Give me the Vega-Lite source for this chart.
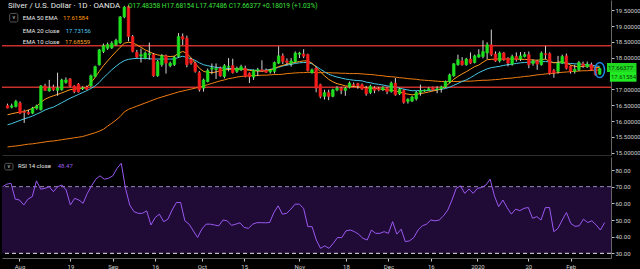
{
"$schema":"https://vega.github.io/schema/vega-lite/v6.json",
"background":"#000000",
"padding":0,
"spacing":1,
"config":{"view":{"stroke":null},"axis":{"labelFont":"Roboto","grid":false,"labelOverlap":false,"labelFlush":false,"labelBound":false},"text":{"font":"Roboto"}},
"datasets":{
"bars":[
{"i":0,"date":"2019-07-26","open":16.49,"high":16.55,"low":16.40,"close":16.41,"ema10":16.20,"ema20":15.88,"ema50":15.18,"rsi":70},
{"i":1,"date":"2019-07-29","open":16.44,"high":16.55,"low":16.40,"close":16.48,"ema10":16.23,"ema20":15.92,"ema50":15.20,"rsi":71.5},
{"i":2,"date":"2019-07-30","open":16.46,"high":16.67,"low":16.43,"close":16.62,"ema10":16.26,"ema20":15.97,"ema50":15.21,"rsi":72},
{"i":3,"date":"2019-07-31","open":16.57,"high":16.62,"low":16.22,"close":16.25,"ema10":16.28,"ema20":16.02,"ema50":15.23,"rsi":62.5},
{"i":4,"date":"2019-08-01","open":16.30,"high":16.36,"low":15.94,"close":16.27,"ema10":16.30,"ema20":16.07,"ema50":15.25,"rsi":62},
{"i":5,"date":"2019-08-02","open":16.27,"high":16.35,"low":16.20,"close":16.23,"ema10":16.35,"ema20":16.11,"ema50":15.27,"rsi":59},
{"i":6,"date":"2019-08-05","open":16.25,"high":16.45,"low":16.22,"close":16.41,"ema10":16.40,"ema20":16.16,"ema50":15.28,"rsi":62.5},
{"i":7,"date":"2019-08-06","open":16.40,"high":16.52,"low":16.36,"close":16.48,"ema10":16.47,"ema20":16.22,"ema50":15.30,"rsi":64},
{"i":8,"date":"2019-08-07","open":16.36,"high":17.14,"low":16.33,"close":17.11,"ema10":16.59,"ema20":16.28,"ema50":15.32,"rsi":73.5},
{"i":9,"date":"2019-08-08","open":17.11,"high":17.18,"low":16.95,"close":16.97,"ema10":16.69,"ema20":16.35,"ema50":15.34,"rsi":68.5},
{"i":10,"date":"2019-08-09","open":16.95,"high":17.30,"low":16.93,"close":17.04,"ema10":16.75,"ema20":16.40,"ema50":15.36,"rsi":69},
{"i":11,"date":"2019-08-12","open":17.07,"high":17.15,"low":16.95,"close":16.99,"ema10":16.80,"ema20":16.44,"ema50":15.37,"rsi":70},
{"i":12,"date":"2019-08-13","open":16.97,"high":17.53,"low":16.80,"close":17.05,"ema10":16.84,"ema20":16.51,"ema50":15.39,"rsi":67},
{"i":13,"date":"2019-08-14","open":16.99,"high":17.34,"low":16.96,"close":17.30,"ema10":16.89,"ema20":16.58,"ema50":15.41,"rsi":70},
{"i":14,"date":"2019-08-15","open":17.22,"high":17.38,"low":17.18,"close":17.30,"ema10":16.94,"ema20":16.65,"ema50":15.43,"rsi":71},
{"i":15,"date":"2019-08-16","open":17.33,"high":17.36,"low":17.07,"close":17.11,"ema10":16.99,"ema20":16.72,"ema50":15.45,"rsi":68},
{"i":16,"date":"2019-08-19","open":17.11,"high":17.13,"low":16.88,"close":16.93,"ema10":17.01,"ema20":16.78,"ema50":15.47,"rsi":59},
{"i":17,"date":"2019-08-20","open":17.17,"high":17.20,"low":16.90,"close":16.92,"ema10":17.02,"ema20":16.84,"ema50":15.49,"rsi":63},
{"i":18,"date":"2019-08-21","open":17.02,"high":17.10,"low":16.98,"close":17.05,"ema10":17.03,"ema20":16.90,"ema50":15.51,"rsi":62},
{"i":19,"date":"2019-08-22","open":17.07,"high":17.12,"low":16.98,"close":17.00,"ema10":17.07,"ema20":16.96,"ema50":15.55,"rsi":60},
{"i":20,"date":"2019-08-23","open":17.11,"high":17.47,"low":17.08,"close":17.43,"ema10":17.21,"ema20":17.03,"ema50":15.59,"rsi":66},
{"i":21,"date":"2019-08-26","open":17.41,"high":17.75,"low":17.38,"close":17.72,"ema10":17.38,"ema20":17.11,"ema50":15.63,"rsi":70.5},
{"i":22,"date":"2019-08-27","open":17.78,"high":18.28,"low":17.75,"close":18.25,"ema10":17.57,"ema20":17.22,"ema50":15.68,"rsi":74.5},
{"i":23,"date":"2019-08-28","open":18.20,"high":18.45,"low":18.15,"close":18.38,"ema10":17.75,"ema20":17.37,"ema50":15.74,"rsi":76.5},
{"i":24,"date":"2019-08-29","open":18.30,"high":18.48,"low":18.25,"close":18.42,"ema10":17.90,"ema20":17.49,"ema50":15.84,"rsi":74.5},
{"i":25,"date":"2019-08-30","open":18.31,"high":18.52,"low":18.28,"close":18.46,"ema10":18.05,"ema20":17.62,"ema50":15.93,"rsi":75},
{"i":26,"date":"2019-09-02","open":18.41,"high":18.60,"low":18.38,"close":18.55,"ema10":18.19,"ema20":17.73,"ema50":16.03,"rsi":76.5},
{"i":27,"date":"2019-09-03","open":18.47,"high":19.32,"low":18.44,"close":19.29,"ema10":18.33,"ema20":17.83,"ema50":16.14,"rsi":81},
{"i":28,"date":"2019-09-04","open":19.29,"high":19.64,"low":19.25,"close":19.60,"ema10":18.46,"ema20":17.91,"ema50":16.29,"rsi":84},
{"i":29,"date":"2019-09-05","open":19.62,"high":19.66,"low":18.52,"close":18.67,"ema10":18.49,"ema20":17.95,"ema50":16.37,"rsi":69},
{"i":30,"date":"2019-09-06","open":18.67,"high":18.72,"low":18.17,"close":18.20,"ema10":18.47,"ema20":17.97,"ema50":16.42,"rsi":59},
{"i":31,"date":"2019-09-09","open":18.17,"high":18.25,"low":17.98,"close":18.02,"ema10":18.41,"ema20":17.98,"ema50":16.47,"rsi":55},
{"i":32,"date":"2019-09-10","open":18.05,"high":18.29,"low":17.85,"close":18.10,"ema10":18.33,"ema20":17.98,"ema50":16.52,"rsi":54},
{"i":33,"date":"2019-09-11","open":17.99,"high":18.20,"low":17.95,"close":18.15,"ema10":18.25,"ema20":17.98,"ema50":16.57,"rsi":54},
{"i":34,"date":"2019-09-12","open":18.10,"high":18.48,"low":17.94,"close":18.13,"ema10":18.19,"ema20":17.97,"ema50":16.62,"rsi":55.5},
{"i":35,"date":"2019-09-13","open":18.10,"high":18.15,"low":17.40,"close":17.43,"ema10":18.13,"ema20":17.96,"ema50":16.67,"rsi":47},
{"i":36,"date":"2019-09-16","open":17.43,"high":17.93,"low":17.40,"close":17.88,"ema10":18.09,"ema20":17.96,"ema50":16.72,"rsi":51.5},
{"i":37,"date":"2019-09-17","open":17.78,"high":18.12,"low":17.72,"close":18.06,"ema10":18.07,"ema20":17.96,"ema50":16.76,"rsi":53.5},
{"i":38,"date":"2019-09-18","open":18.06,"high":18.10,"low":17.50,"close":17.83,"ema10":18.05,"ema20":17.96,"ema50":16.80,"rsi":49},
{"i":39,"date":"2019-09-19","open":17.75,"high":17.88,"low":17.70,"close":17.83,"ema10":18.04,"ema20":17.96,"ema50":16.84,"rsi":50.5},
{"i":40,"date":"2019-09-20","open":17.78,"high":18.06,"low":17.74,"close":18.02,"ema10":18.05,"ema20":17.96,"ema50":16.88,"rsi":56},
{"i":41,"date":"2019-09-23","open":18.04,"high":18.78,"low":18.00,"close":18.67,"ema10":18.14,"ema20":18.01,"ema50":16.92,"rsi":60.5},
{"i":42,"date":"2019-09-24","open":18.67,"high":18.77,"low":18.40,"close":18.59,"ema10":18.20,"ema20":18.05,"ema50":16.95,"rsi":60.5},
{"i":43,"date":"2019-09-25","open":18.62,"high":18.70,"low":17.70,"close":17.78,"ema10":18.14,"ema20":18.01,"ema50":16.98,"rsi":49.5},
{"i":44,"date":"2019-09-26","open":17.95,"high":18.00,"low":17.78,"close":17.83,"ema10":18.00,"ema20":17.97,"ema50":17.01,"rsi":47.5},
{"i":45,"date":"2019-09-27","open":17.83,"high":17.88,"low":17.53,"close":17.57,"ema10":17.83,"ema20":17.92,"ema50":17.04,"rsi":43.5},
{"i":46,"date":"2019-09-30","open":17.53,"high":17.58,"low":16.93,"close":16.99,"ema10":17.67,"ema20":17.84,"ema50":17.07,"rsi":39.5},
{"i":47,"date":"2019-10-01","open":17.04,"high":17.34,"low":16.93,"close":17.30,"ema10":17.57,"ema20":17.78,"ema50":17.11,"rsi":44.5},
{"i":48,"date":"2019-10-02","open":17.25,"high":17.66,"low":17.22,"close":17.60,"ema10":17.54,"ema20":17.75,"ema50":17.15,"rsi":47.5},
{"i":49,"date":"2019-10-03","open":17.64,"high":17.82,"low":17.48,"close":17.68,"ema10":17.53,"ema20":17.72,"ema50":17.19,"rsi":47.5},
{"i":50,"date":"2019-10-04","open":17.62,"high":17.82,"low":17.33,"close":17.66,"ema10":17.55,"ema20":17.70,"ema50":17.23,"rsi":47},
{"i":51,"date":"2019-10-07","open":17.67,"high":17.72,"low":17.40,"close":17.43,"ema10":17.59,"ema20":17.68,"ema50":17.27,"rsi":46.5},
{"i":52,"date":"2019-10-08","open":17.41,"high":17.80,"low":17.35,"close":17.75,"ema10":17.62,"ema20":17.67,"ema50":17.30,"rsi":50},
{"i":53,"date":"2019-10-09","open":17.70,"high":17.99,"low":17.57,"close":17.73,"ema10":17.63,"ema20":17.66,"ema50":17.34,"rsi":49.5},
{"i":54,"date":"2019-10-10","open":17.75,"high":17.97,"low":17.50,"close":17.53,"ema10":17.64,"ema20":17.66,"ema50":17.36,"rsi":46.8},
{"i":55,"date":"2019-10-11","open":17.57,"high":17.72,"low":17.52,"close":17.67,"ema10":17.64,"ema20":17.65,"ema50":17.39,"rsi":47.5},
{"i":56,"date":"2019-10-14","open":17.62,"high":17.78,"low":17.58,"close":17.72,"ema10":17.64,"ema20":17.65,"ema50":17.41,"rsi":48.3},
{"i":57,"date":"2019-10-15","open":17.67,"high":17.75,"low":17.38,"close":17.41,"ema10":17.63,"ema20":17.64,"ema50":17.42,"rsi":45.5},
{"i":58,"date":"2019-10-16","open":17.51,"high":17.54,"low":17.20,"close":17.40,"ema10":17.60,"ema20":17.63,"ema50":17.43,"rsi":45},
{"i":59,"date":"2019-10-17","open":17.39,"high":17.63,"low":17.30,"close":17.60,"ema10":17.59,"ema20":17.61,"ema50":17.44,"rsi":47.5},
{"i":60,"date":"2019-10-18","open":17.60,"high":17.68,"low":17.42,"close":17.62,"ema10":17.58,"ema20":17.60,"ema50":17.44,"rsi":48.4},
{"i":61,"date":"2019-10-21","open":17.62,"high":17.92,"low":17.55,"close":17.58,"ema10":17.57,"ema20":17.60,"ema50":17.45,"rsi":48.4},
{"i":62,"date":"2019-10-22","open":17.60,"high":17.66,"low":17.52,"close":17.54,"ema10":17.59,"ema20":17.61,"ema50":17.45,"rsi":48.3},
{"i":63,"date":"2019-10-23","open":17.55,"high":17.65,"low":17.50,"close":17.61,"ema10":17.62,"ema20":17.63,"ema50":17.46,"rsi":48.5},
{"i":64,"date":"2019-10-24","open":17.57,"high":17.88,"low":17.50,"close":17.85,"ema10":17.66,"ema20":17.66,"ema50":17.47,"rsi":54.5},
{"i":65,"date":"2019-10-25","open":17.83,"high":18.36,"low":17.80,"close":18.06,"ema10":17.72,"ema20":17.70,"ema50":17.47,"rsi":58.5},
{"i":66,"date":"2019-10-28","open":18.06,"high":18.14,"low":17.80,"close":17.88,"ema10":17.76,"ema20":17.74,"ema50":17.48,"rsi":53.5},
{"i":67,"date":"2019-10-29","open":17.90,"high":17.98,"low":17.76,"close":17.85,"ema10":17.80,"ema20":17.77,"ema50":17.50,"rsi":54},
{"i":68,"date":"2019-10-30","open":17.82,"high":17.99,"low":17.72,"close":17.90,"ema10":17.83,"ema20":17.79,"ema50":17.51,"rsi":56.5},
{"i":69,"date":"2019-10-31","open":17.88,"high":18.20,"low":17.85,"close":18.15,"ema10":17.86,"ema20":17.82,"ema50":17.52,"rsi":59.5},
{"i":70,"date":"2019-11-01","open":18.11,"high":18.19,"low":17.99,"close":18.15,"ema10":17.88,"ema20":17.84,"ema50":17.53,"rsi":59.5},
{"i":71,"date":"2019-11-04","open":18.12,"high":18.27,"low":17.99,"close":18.05,"ema10":17.90,"ema20":17.85,"ema50":17.53,"rsi":57},
{"i":72,"date":"2019-11-05","open":18.10,"high":18.13,"low":17.57,"close":17.60,"ema10":17.90,"ema20":17.85,"ema50":17.54,"rsi":46},
{"i":73,"date":"2019-11-06","open":17.53,"high":17.66,"low":17.50,"close":17.62,"ema10":17.83,"ema20":17.81,"ema50":17.54,"rsi":46},
{"i":74,"date":"2019-11-07","open":17.67,"high":17.70,"low":16.91,"close":17.04,"ema10":17.70,"ema20":17.73,"ema50":17.53,"rsi":38},
{"i":75,"date":"2019-11-08","open":17.15,"high":17.18,"low":16.72,"close":16.78,"ema10":17.56,"ema20":17.64,"ema50":17.53,"rsi":33},
{"i":76,"date":"2019-11-11","open":16.78,"high":16.99,"low":16.68,"close":16.90,"ema10":17.43,"ema20":17.56,"ema50":17.53,"rsi":34.5},
{"i":77,"date":"2019-11-12","open":16.90,"high":16.99,"low":16.66,"close":16.78,"ema10":17.32,"ema20":17.48,"ema50":17.53,"rsi":33},
{"i":78,"date":"2019-11-13","open":16.78,"high":17.02,"low":16.75,"close":16.99,"ema10":17.24,"ema20":17.43,"ema50":17.52,"rsi":36},
{"i":79,"date":"2019-11-14","open":16.98,"high":17.10,"low":16.94,"close":17.04,"ema10":17.18,"ema20":17.39,"ema50":17.52,"rsi":39.5},
{"i":80,"date":"2019-11-15","open":17.04,"high":17.08,"low":16.85,"close":16.97,"ema10":17.15,"ema20":17.36,"ema50":17.51,"rsi":39.4},
{"i":81,"date":"2019-11-18","open":16.97,"high":17.08,"low":16.80,"close":17.04,"ema10":17.11,"ema20":17.33,"ema50":17.51,"rsi":43.5},
{"i":82,"date":"2019-11-19","open":17.07,"high":17.25,"low":17.03,"close":17.20,"ema10":17.10,"ema20":17.31,"ema50":17.50,"rsi":44},
{"i":83,"date":"2019-11-20","open":17.15,"high":17.22,"low":17.08,"close":17.12,"ema10":17.09,"ema20":17.29,"ema50":17.50,"rsi":43},
{"i":84,"date":"2019-11-21","open":17.18,"high":17.21,"low":17.02,"close":17.12,"ema10":17.08,"ema20":17.28,"ema50":17.50,"rsi":41.4},
{"i":85,"date":"2019-11-22","open":17.15,"high":17.19,"low":16.98,"close":17.01,"ema10":17.07,"ema20":17.27,"ema50":17.49,"rsi":39},
{"i":86,"date":"2019-11-25","open":17.04,"high":17.11,"low":16.80,"close":16.86,"ema10":17.05,"ema20":17.23,"ema50":17.48,"rsi":38},
{"i":87,"date":"2019-11-26","open":16.90,"high":17.15,"low":16.85,"close":17.10,"ema10":17.04,"ema20":17.21,"ema50":17.47,"rsi":44},
{"i":88,"date":"2019-11-27","open":17.04,"high":17.10,"low":16.88,"close":16.97,"ema10":17.03,"ema20":17.18,"ema50":17.46,"rsi":42},
{"i":89,"date":"2019-11-28","open":17.02,"high":17.08,"low":16.94,"close":16.98,"ema10":17.02,"ema20":17.16,"ema50":17.44,"rsi":42},
{"i":90,"date":"2019-11-29","open":16.99,"high":17.10,"low":16.95,"close":17.06,"ema10":17.00,"ema20":17.14,"ema50":17.43,"rsi":43},
{"i":91,"date":"2019-12-02","open":17.04,"high":17.08,"low":16.85,"close":16.93,"ema10":16.99,"ema20":17.11,"ema50":17.41,"rsi":42},
{"i":92,"date":"2019-12-03","open":16.93,"high":17.25,"low":16.90,"close":17.20,"ema10":16.97,"ema20":17.09,"ema50":17.40,"rsi":49},
{"i":93,"date":"2019-12-04","open":17.20,"high":17.36,"low":16.80,"close":16.83,"ema10":16.95,"ema20":17.07,"ema50":17.39,"rsi":41.5},
{"i":94,"date":"2019-12-05","open":16.86,"high":17.05,"low":16.82,"close":17.01,"ema10":16.92,"ema20":17.04,"ema50":17.37,"rsi":44.5},
{"i":95,"date":"2019-12-06","open":16.97,"high":17.00,"low":16.55,"close":16.59,"ema10":16.88,"ema20":17.01,"ema50":17.36,"rsi":37},
{"i":96,"date":"2019-12-09","open":16.62,"high":16.72,"low":16.55,"close":16.69,"ema10":16.85,"ema20":16.98,"ema50":17.34,"rsi":37.5},
{"i":97,"date":"2019-12-10","open":16.63,"high":16.80,"low":16.60,"close":16.76,"ema10":16.83,"ema20":16.96,"ema50":17.33,"rsi":39.5},
{"i":98,"date":"2019-12-11","open":16.70,"high":16.95,"low":16.65,"close":16.90,"ema10":16.84,"ema20":16.96,"ema50":17.32,"rsi":44},
{"i":99,"date":"2019-12-12","open":16.90,"high":17.15,"low":16.80,"close":16.96,"ema10":16.87,"ema20":16.96,"ema50":17.30,"rsi":46.5},
{"i":100,"date":"2019-12-13","open":16.95,"high":17.00,"low":16.92,"close":16.98,"ema10":16.89,"ema20":16.96,"ema50":17.29,"rsi":47.5},
{"i":101,"date":"2019-12-16","open":16.98,"high":17.07,"low":16.97,"close":17.02,"ema10":16.92,"ema20":16.97,"ema50":17.28,"rsi":50},
{"i":102,"date":"2019-12-17","open":17.06,"high":17.09,"low":16.96,"close":16.99,"ema10":16.95,"ema20":16.98,"ema50":17.27,"rsi":49.5},
{"i":103,"date":"2019-12-18","open":17.00,"high":17.10,"low":16.88,"close":17.02,"ema10":16.98,"ema20":16.99,"ema50":17.26,"rsi":50},
{"i":104,"date":"2019-12-19","open":17.02,"high":17.12,"low":16.90,"close":17.08,"ema10":17.02,"ema20":17.00,"ema50":17.25,"rsi":52.5},
{"i":105,"date":"2019-12-20","open":17.08,"high":17.28,"low":17.05,"close":17.25,"ema10":17.10,"ema20":17.03,"ema50":17.25,"rsi":56},
{"i":106,"date":"2019-12-23","open":17.24,"high":17.50,"low":17.20,"close":17.46,"ema10":17.20,"ema20":17.07,"ema50":17.25,"rsi":62},
{"i":107,"date":"2019-12-24","open":17.43,"high":17.83,"low":17.40,"close":17.81,"ema10":17.32,"ema20":17.13,"ema50":17.25,"rsi":69},
{"i":108,"date":"2019-12-26","open":17.78,"high":18.10,"low":17.75,"close":17.94,"ema10":17.41,"ema20":17.19,"ema50":17.25,"rsi":70.5},
{"i":109,"date":"2019-12-27","open":17.90,"high":18.02,"low":17.75,"close":17.78,"ema10":17.49,"ema20":17.25,"ema50":17.26,"rsi":66},
{"i":110,"date":"2019-12-30","open":17.78,"high":18.00,"low":17.75,"close":17.96,"ema10":17.56,"ema20":17.30,"ema50":17.26,"rsi":68.5},
{"i":111,"date":"2019-12-31","open":17.96,"high":18.17,"low":17.80,"close":17.83,"ema10":17.64,"ema20":17.37,"ema50":17.26,"rsi":66},
{"i":112,"date":"2020-01-02","open":17.85,"high":18.10,"low":17.82,"close":18.06,"ema10":17.72,"ema20":17.45,"ema50":17.27,"rsi":69},
{"i":113,"date":"2020-01-03","open":18.02,"high":18.27,"low":18.00,"close":18.10,"ema10":17.77,"ema20":17.53,"ema50":17.28,"rsi":69.5},
{"i":114,"date":"2020-01-06","open":18.04,"high":18.55,"low":17.98,"close":18.20,"ema10":17.86,"ema20":17.59,"ema50":17.29,"rsi":71},
{"i":115,"date":"2020-01-07","open":18.15,"high":18.49,"low":17.96,"close":18.41,"ema10":17.94,"ema20":17.65,"ema50":17.29,"rsi":74.5},
{"i":116,"date":"2020-01-08","open":18.41,"high":18.89,"low":18.05,"close":18.10,"ema10":17.95,"ema20":17.69,"ema50":17.30,"rsi":64.5},
{"i":117,"date":"2020-01-09","open":18.12,"high":18.20,"low":17.87,"close":17.90,"ema10":17.96,"ema20":17.71,"ema50":17.31,"rsi":58},
{"i":118,"date":"2020-01-10","open":17.90,"high":18.20,"low":17.85,"close":18.15,"ema10":17.96,"ema20":17.73,"ema50":17.32,"rsi":62},
{"i":119,"date":"2020-01-13","open":18.15,"high":18.18,"low":17.90,"close":17.94,"ema10":17.96,"ema20":17.76,"ema50":17.34,"rsi":57.4},
{"i":120,"date":"2020-01-14","open":17.98,"high":18.02,"low":17.73,"close":17.83,"ema10":17.96,"ema20":17.78,"ema50":17.35,"rsi":53.5},
{"i":121,"date":"2020-01-15","open":17.80,"high":18.10,"low":17.75,"close":18.04,"ema10":17.96,"ema20":17.80,"ema50":17.36,"rsi":56.5},
{"i":122,"date":"2020-01-16","open":18.04,"high":18.17,"low":17.88,"close":17.95,"ema10":17.96,"ema20":17.82,"ema50":17.38,"rsi":55.6},
{"i":123,"date":"2020-01-17","open":17.96,"high":18.18,"low":17.90,"close":18.06,"ema10":17.95,"ema20":17.84,"ema50":17.39,"rsi":57},
{"i":124,"date":"2020-01-20","open":18.04,"high":18.18,"low":18.01,"close":18.10,"ema10":17.95,"ema20":17.85,"ema50":17.41,"rsi":57.5},
{"i":125,"date":"2020-01-21","open":18.10,"high":18.20,"low":17.67,"close":17.78,"ema10":17.94,"ema20":17.86,"ema50":17.42,"rsi":51},
{"i":126,"date":"2020-01-22","open":17.82,"high":17.95,"low":17.75,"close":17.90,"ema10":17.93,"ema20":17.87,"ema50":17.44,"rsi":52},
{"i":127,"date":"2020-01-23","open":17.90,"high":17.94,"low":17.62,"close":17.80,"ema10":17.92,"ema20":17.87,"ema50":17.46,"rsi":50},
{"i":128,"date":"2020-01-24","open":17.78,"high":18.20,"low":17.75,"close":18.15,"ema10":17.94,"ema20":17.88,"ema50":17.47,"rsi":57.4},
{"i":129,"date":"2020-01-27","open":18.13,"high":18.37,"low":17.95,"close":18.10,"ema10":17.96,"ema20":17.88,"ema50":17.49,"rsi":57.5},
{"i":130,"date":"2020-01-28","open":18.13,"high":18.17,"low":17.46,"close":17.51,"ema10":17.88,"ema20":17.87,"ema50":17.50,"rsi":43},
{"i":131,"date":"2020-01-29","open":17.60,"high":17.65,"low":17.37,"close":17.52,"ema10":17.84,"ema20":17.85,"ema50":17.51,"rsi":45},
{"i":132,"date":"2020-01-30","open":17.57,"high":18.06,"low":17.50,"close":17.83,"ema10":17.86,"ema20":17.84,"ema50":17.53,"rsi":50},
{"i":133,"date":"2020-01-31","open":17.83,"high":18.10,"low":17.80,"close":18.04,"ema10":17.88,"ema20":17.84,"ema50":17.54,"rsi":54.5},
{"i":134,"date":"2020-02-03","open":18.06,"high":18.13,"low":17.63,"close":17.67,"ema10":17.83,"ema20":17.83,"ema50":17.55,"rsi":48},
{"i":135,"date":"2020-02-04","open":17.73,"high":17.76,"low":17.50,"close":17.57,"ema10":17.77,"ema20":17.82,"ema50":17.56,"rsi":46.2},
{"i":136,"date":"2020-02-05","open":17.57,"high":17.78,"low":17.50,"close":17.64,"ema10":17.73,"ema20":17.81,"ema50":17.57,"rsi":46.5},
{"i":137,"date":"2020-02-06","open":17.62,"high":17.90,"low":17.58,"close":17.85,"ema10":17.72,"ema20":17.80,"ema50":17.58,"rsi":50.5},
{"i":138,"date":"2020-02-07","open":17.81,"high":17.88,"low":17.68,"close":17.75,"ema10":17.73,"ema20":17.79,"ema50":17.59,"rsi":48.5},
{"i":139,"date":"2020-02-10","open":17.71,"high":17.88,"low":17.68,"close":17.80,"ema10":17.74,"ema20":17.78,"ema50":17.59,"rsi":49.5},
{"i":140,"date":"2020-02-11","open":17.78,"high":17.85,"low":17.60,"close":17.62,"ema10":17.73,"ema20":17.77,"ema50":17.60,"rsi":47},
{"i":141,"date":"2020-02-12","open":17.67,"high":17.70,"low":17.44,"close":17.46,"ema10":17.69,"ema20":17.74,"ema50":17.61,"rsi":44},
{"i":142,"date":"2020-02-13","open":17.48,"high":17.68,"low":17.47,"close":17.66,"ema10":17.69,"ema20":17.73,"ema50":17.62,"rsi":48.47}
],
"levels":[{"level":18.38},{"level":17.07}]
},
"vconcat":[
{
"width":609,"height":155,
"data":{"name":"bars"},
"resolve":{"axis":{"x":"independent","y":"independent"}},
"layer":[
{"data":{"name":"levels"},"mark":{"type":"rule","color":"#c9302c","strokeWidth":1.5},
 "encoding":{"y":{"field":"level","type":"quantitative","axis":null,"scale":{"domain":[14.927,19.826],"nice":false,"zero":false}}}},
{"mark":{"type":"line","color":"#f07c10","strokeWidth":1},
 "encoding":{"x":{"field":"i","type":"quantitative","axis":null,"scale":{"domain":[-0.127,143.5],"nice":false,"zero":false}},
 "y":{"field":"ema50","type":"quantitative","axis":null,"scale":{"domain":[14.927,19.826],"nice":false,"zero":false}}}},
{"mark":{"type":"line","color":"#45c8e6","strokeWidth":1},
 "encoding":{"x":{"field":"i","type":"quantitative","axis":null,"scale":{"domain":[-0.127,143.5],"nice":false,"zero":false}},
 "y":{"field":"ema20","type":"quantitative","axis":null,"scale":{"domain":[14.927,19.826],"nice":false,"zero":false}}}},
{"mark":{"type":"line","color":"#ff9a1a","strokeWidth":1},
 "encoding":{"x":{"field":"i","type":"quantitative","axis":null,"scale":{"domain":[-0.127,143.5],"nice":false,"zero":false}},
 "y":{"field":"ema10","type":"quantitative","axis":null,"scale":{"domain":[14.927,19.826],"nice":false,"zero":false}}}},
{"mark":{"type":"rule","color":"#d4d4d4","strokeWidth":1},
 "encoding":{"x":{"field":"i","type":"quantitative","scale":{"domain":[-0.127,143.5],"nice":false,"zero":false},
   "axis":{"orient":"bottom","title":null,"labels":false,"ticks":false,"domain":true,"domainColor":"#2e2e2e"}},
 "y":{"field":"low","type":"quantitative","scale":{"domain":[14.927,19.826],"nice":false,"zero":false},
   "axis":{"orient":"right","title":null,"values":[15,15.5,16,16.5,17,18,18.5,19,19.5],"format":".5f","tickSize":3,"labelPadding":1,"labelFontSize":6,"labelColor":"#d0d0d0","tickColor":"#c0c0c0","domainColor":"#666666","labelOverlap":false,"labelFlush":false}},
 "y2":{"field":"high"}}},
{"mark":{"type":"bar","size":2.6,"strokeWidth":0.6},
 "encoding":{"x":{"field":"i","type":"quantitative","axis":null,"scale":{"domain":[-0.127,143.5],"nice":false,"zero":false}},
 "y":{"field":"open","type":"quantitative","axis":null,"scale":{"domain":[14.927,19.826],"nice":false,"zero":false}},
 "y2":{"field":"close"},
 "color":{"condition":{"test":"datum.close >= datum.open","value":"#1fe01f"},"value":"#f41c1c"},
 "stroke":{"condition":{"test":"datum.close >= datum.open","value":"#1fe01f"},"value":"#f41c1c"}}},
{"data":{"values":[{}]},"mark":{"type":"point","shape":"M-0.64,0A0.64,1,0,1,0,0.64,0A0.64,1,0,1,0,-0.64,0","size":225,"filled":false,"stroke":"#1e88e5","strokeWidth":1.5,"opacity":1},
 "encoding":{"x":{"datum":142,"type":"quantitative","axis":null,"scale":{"domain":[-0.127,143.5],"nice":false,"zero":false}},
 "y":{"datum":17.614,"type":"quantitative","axis":null,"scale":{"domain":[14.927,19.826],"nice":false,"zero":false}}}},
{"data":{"values":[{}]},"mark":{"type":"rect","fill":"#1fd81f"},
 "encoding":{"x":{"datum":143.74,"type":"quantitative","axis":null,"scale":{"domain":[-0.127,143.5],"nice":false,"zero":false}},"x2":{"datum":150.81},
 "y":{"datum":17.835,"type":"quantitative","axis":null,"scale":{"domain":[14.927,19.826],"nice":false,"zero":false}},"y2":{"datum":17.55}}},
{"data":{"values":[{}]},"mark":{"type":"rect","fill":"#22ea22"},
 "encoding":{"x":{"datum":144.44,"type":"quantitative","axis":null,"scale":{"domain":[-0.127,143.5],"nice":false,"zero":false}},"x2":{"datum":150.81},
 "y":{"datum":17.55,"type":"quantitative","axis":null,"scale":{"domain":[14.927,19.826],"nice":false,"zero":false}},"y2":{"datum":17.244}}},
{"data":{"values":[{}]},"mark":{"type":"text","text":"17.66377","align":"left","baseline":"middle","fontSize":6,"color":"#0a3a0a","dx":1},
 "encoding":{"x":{"datum":143.74,"type":"quantitative","axis":null,"scale":{"domain":[-0.127,143.5],"nice":false,"zero":false}},
 "y":{"datum":17.69,"type":"quantitative","axis":null,"scale":{"domain":[14.927,19.826],"nice":false,"zero":false}}}},
{"data":{"values":[{}]},"mark":{"type":"text","text":"17.61584","align":"left","baseline":"middle","fontSize":6,"color":"#0a3a0a","dx":1},
 "encoding":{"x":{"datum":144.44,"type":"quantitative","axis":null,"scale":{"domain":[-0.127,143.5],"nice":false,"zero":false}},
 "y":{"datum":17.40,"type":"quantitative","axis":null,"scale":{"domain":[14.927,19.826],"nice":false,"zero":false}}}},
{"data":{"values":[{}]},"mark":{"type":"text","text":"Silver / U.S. Dollar · 1D · OANDA","align":"left","baseline":"middle","fontSize":8,"color":"#e8e8e8"},
 "encoding":{"x":{"datum":0.109,"type":"quantitative","axis":null,"scale":{"domain":[-0.127,143.5],"nice":false,"zero":false}},
 "y":{"datum":19.643,"type":"quantitative","axis":null,"scale":{"domain":[14.927,19.826],"nice":false,"zero":false}}}},
{"data":{"values":[{}]},"mark":{"type":"text","text":"O17.48358 H17.68154 L17.47486 C17.66377 +0.18019 (+1.03%)","align":"left","baseline":"middle","fontSize":6.6,"color":"#3ee03e"},
 "encoding":{"x":{"datum":28.88,"type":"quantitative","axis":null,"scale":{"domain":[-0.127,143.5],"nice":false,"zero":false}},
 "y":{"datum":19.643,"type":"quantitative","axis":null,"scale":{"domain":[14.927,19.826],"nice":false,"zero":false}}}},
{"data":{"values":[{}]},"mark":{"type":"rect","fill":"#000000","stroke":"#555555","strokeWidth":1,"cornerRadius":1.5},
 "encoding":{"x":{"datum":0.51,"type":"quantitative","axis":null,"scale":{"domain":[-0.127,143.5],"nice":false,"zero":false}},"x2":{"datum":2.47},
 "y":{"datum":19.402,"type":"quantitative","axis":null,"scale":{"domain":[14.927,19.826],"nice":false,"zero":false}},"y2":{"datum":19.131}}},
{"data":{"values":[{}]},"mark":{"type":"text","text":"v","align":"center","baseline":"middle","fontSize":5.5,"color":"#dddddd"},
 "encoding":{"x":{"datum":1.49,"type":"quantitative","axis":null,"scale":{"domain":[-0.127,143.5],"nice":false,"zero":false}},
 "y":{"datum":19.28,"type":"quantitative","axis":null,"scale":{"domain":[14.927,19.826],"nice":false,"zero":false}}}},
{"data":{"values":[{}]},"mark":{"type":"text","text":"EMA 50 EMA","align":"left","baseline":"middle","fontSize":6,"color":"#e8e8e8"},
 "encoding":{"x":{"datum":3.646,"type":"quantitative","axis":null,"scale":{"domain":[-0.127,143.5],"nice":false,"zero":false}},
 "y":{"datum":19.267,"type":"quantitative","axis":null,"scale":{"domain":[14.927,19.826],"nice":false,"zero":false}}}},
{"data":{"values":[{}]},"mark":{"type":"text","text":"17.61584","align":"left","baseline":"middle","fontSize":6,"color":"#ff9800"},
 "encoding":{"x":{"datum":13.32,"type":"quantitative","axis":null,"scale":{"domain":[-0.127,143.5],"nice":false,"zero":false}},
 "y":{"datum":19.267,"type":"quantitative","axis":null,"scale":{"domain":[14.927,19.826],"nice":false,"zero":false}}}},
{"data":{"values":[{}]},"mark":{"type":"text","text":"EMA 20 close","align":"left","baseline":"middle","fontSize":6,"color":"#e8e8e8"},
 "encoding":{"x":{"datum":3.646,"type":"quantitative","axis":null,"scale":{"domain":[-0.127,143.5],"nice":false,"zero":false}},
 "y":{"datum":18.856,"type":"quantitative","axis":null,"scale":{"domain":[14.927,19.826],"nice":false,"zero":false}}}},
{"data":{"values":[{}]},"mark":{"type":"text","text":"17.73156","align":"left","baseline":"middle","fontSize":6,"color":"#4fc8ec"},
 "encoding":{"x":{"datum":13.95,"type":"quantitative","axis":null,"scale":{"domain":[-0.127,143.5],"nice":false,"zero":false}},
 "y":{"datum":18.856,"type":"quantitative","axis":null,"scale":{"domain":[14.927,19.826],"nice":false,"zero":false}}}},
{"data":{"values":[{}]},"mark":{"type":"text","text":"EMA 10 close","align":"left","baseline":"middle","fontSize":6,"color":"#e8e8e8"},
 "encoding":{"x":{"datum":3.646,"type":"quantitative","axis":null,"scale":{"domain":[-0.127,143.5],"nice":false,"zero":false}},
 "y":{"datum":18.489,"type":"quantitative","axis":null,"scale":{"domain":[14.927,19.826],"nice":false,"zero":false}}}},
{"data":{"values":[{}]},"mark":{"type":"text","text":"17.68559","align":"left","baseline":"middle","fontSize":6,"color":"#ffa726"},
 "encoding":{"x":{"datum":13.79,"type":"quantitative","axis":null,"scale":{"domain":[-0.127,143.5],"nice":false,"zero":false}},
 "y":{"datum":18.489,"type":"quantitative","axis":null,"scale":{"domain":[14.927,19.826],"nice":false,"zero":false}}}}
]
},
{
"width":609,"height":101,
"data":{"name":"bars"},
"resolve":{"axis":{"x":"independent","y":"independent"}},
"layer":[
{"data":{"values":[{"lo":30,"hi":70}]},"mark":{"type":"rect","fill":"#1f0b36"},
 "encoding":{"y":{"field":"lo","type":"quantitative","axis":null,"scale":{"domain":[27.2,87.8],"nice":false,"zero":false}},"y2":{"field":"hi"}}},
{"data":{"values":[{}]},"mark":{"type":"rule","color":"#9c88ba","strokeWidth":1,"strokeDash":[4,3]},
 "encoding":{"y":{"datum":70,"type":"quantitative","axis":null,"scale":{"domain":[27.2,87.8],"nice":false,"zero":false}}}},
{"data":{"values":[{}]},"mark":{"type":"rule","color":"#e6e6e6","strokeWidth":1,"strokeDash":[4,3]},
 "encoding":{"y":{"datum":30,"type":"quantitative","axis":null,"scale":{"domain":[27.2,87.8],"nice":false,"zero":false}}}},
{"mark":{"type":"line","color":"#9a58f0","strokeWidth":1},
 "encoding":{"x":{"field":"i","type":"quantitative","scale":{"domain":[-0.127,143.5],"nice":false,"zero":false},
   "axis":{"orient":"bottom","title":null,"values":[4,16,26,36,47,57,70,81,91,101,112,124,134],
   "labelExpr":"['Aug','19','Sep','16','Oct','15','Nov','18','Dec','16','2020','20','Feb'][indexof([4,16,26,36,47,57,70,81,91,101,112,124,134], datum.value)]",
   "tickSize":3,"labelPadding":2,"labelFontSize":6,"labelColor":"#d0d0d0","tickColor":"#d0d0d0","domainColor":"#666666","labelOverlap":false,"labelFlush":false}},
 "y":{"field":"rsi","type":"quantitative","scale":{"domain":[27.2,87.8],"nice":false,"zero":false},
   "axis":{"orient":"right","title":null,"values":[30,40,50,60,70,80],"format":".2f","tickSize":3,"labelPadding":1,"labelFontSize":6,"labelColor":"#d0d0d0","tickColor":"#c0c0c0","domainColor":"#666666","labelOverlap":false,"labelFlush":false}}}},
{"data":{"values":[{}]},"mark":{"type":"rect","fill":"#000000","stroke":"#555555","strokeWidth":1,"cornerRadius":1.5},
 "encoding":{"x":{"datum":0.51,"type":"quantitative","axis":null,"scale":{"domain":[-0.127,143.5],"nice":false,"zero":false}},"x2":{"datum":2.47},
 "y":{"datum":83.98,"type":"quantitative","axis":null,"scale":{"domain":[27.2,87.8],"nice":false,"zero":false}},"y2":{"datum":80.02}}},
{"data":{"values":[{}]},"mark":{"type":"text","text":"v","align":"center","baseline":"middle","fontSize":5.5,"color":"#dddddd"},
 "encoding":{"x":{"datum":1.49,"type":"quantitative","axis":null,"scale":{"domain":[-0.127,143.5],"nice":false,"zero":false}},
 "y":{"datum":82.3,"type":"quantitative","axis":null,"scale":{"domain":[27.2,87.8],"nice":false,"zero":false}}}},
{"data":{"values":[{}]},"mark":{"type":"text","text":"RSI 14 close","align":"left","baseline":"middle","fontSize":6,"color":"#e8e8e8"},
 "encoding":{"x":{"datum":3.646,"type":"quantitative","axis":null,"scale":{"domain":[-0.127,143.5],"nice":false,"zero":false}},
 "y":{"datum":82.18,"type":"quantitative","axis":null,"scale":{"domain":[27.2,87.8],"nice":false,"zero":false}}}},
{"data":{"values":[{}]},"mark":{"type":"text","text":"48.47","align":"left","baseline":"middle","fontSize":6,"color":"#9c5cf0"},
 "encoding":{"x":{"datum":13.01,"type":"quantitative","axis":null,"scale":{"domain":[-0.127,143.5],"nice":false,"zero":false}},
 "y":{"datum":82.18,"type":"quantitative","axis":null,"scale":{"domain":[27.2,87.8],"nice":false,"zero":false}}}}
]
}
]
}
